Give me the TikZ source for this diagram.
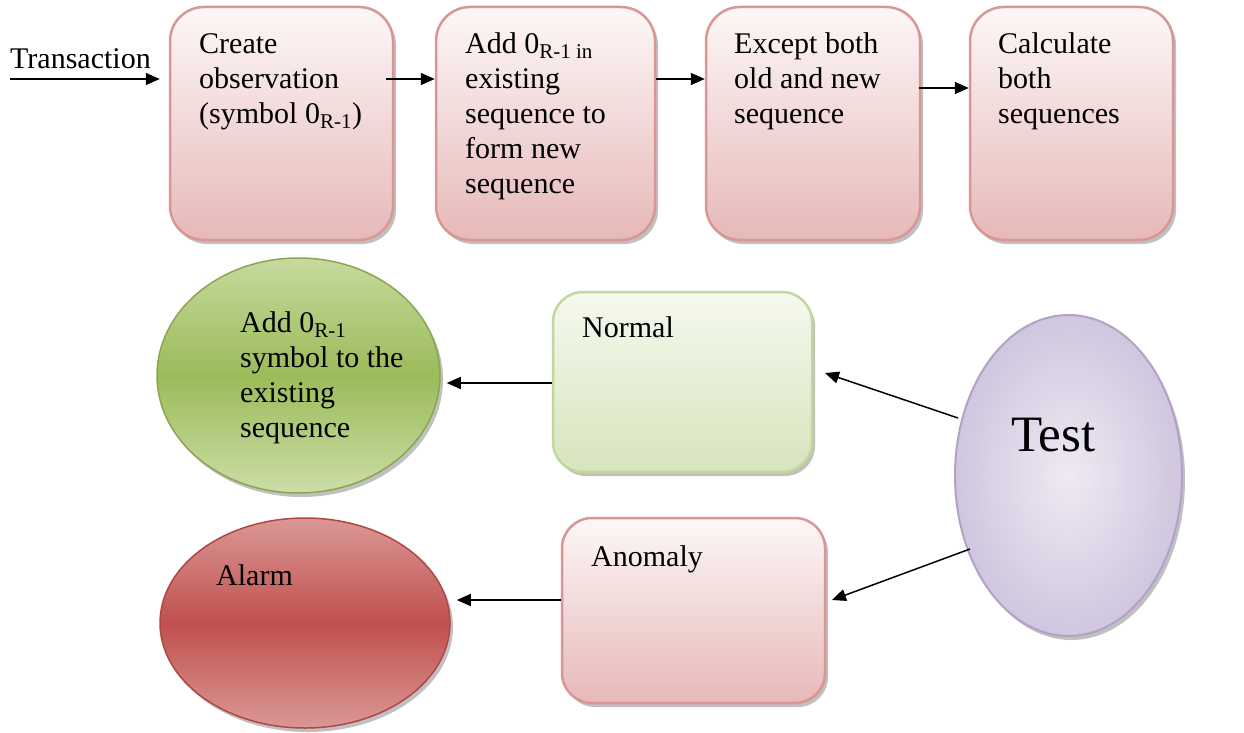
\documentclass[tikz,border=0pt]{standalone}
\usepackage{fontspec}
\setmainfont{Liberation Serif}
\usetikzlibrary{shapes.geometric,arrows.meta,shadows}
\definecolor{pinkbd}{HTML}{D99694}
\definecolor{pinktop}{HTML}{FDF7F7}
\definecolor{pinkbot}{HTML}{E6B9B8}
\definecolor{grnbd}{HTML}{C3D69B}
\definecolor{grntop}{HTML}{F5F9EE}
\definecolor{grnbot}{HTML}{D7E4BD}
\definecolor{grnlite}{HTML}{C6DA9E}
\definecolor{grnmid}{HTML}{9BBB59}
\definecolor{grnedge}{HTML}{8AA64F}
\definecolor{redlite}{HTML}{DA9896}
\definecolor{redmid}{HTML}{C0504D}
\definecolor{rededge}{HTML}{B04744}
\definecolor{lavin}{HTML}{EEEAF3}
\definecolor{lavout}{HTML}{D0C6DF}
\definecolor{lavbd}{HTML}{B3A2C7}
\tikzset{
  shad/.style={drop shadow={shadow xshift=3pt,shadow yshift=-4pt,opacity=0.45,fill=black!55}},
  pinkbox/.style={draw=pinkbd,line width=2.5pt,rounded corners=34pt,top color=pinktop,bottom color=pinkbot,shad,inner sep=0pt},
  greenbox/.style={draw=grnbd,line width=2.5pt,rounded corners=30pt,top color=grntop,bottom color=grnbot,shad,inner sep=0pt},
  grnell/.style={ellipse,draw=grnedge,line width=1.5pt,top color=grnlite,bottom color=grnlite!90!white,middle color=grnmid,shad,inner sep=0pt},
  redell/.style={ellipse,draw=rededge,line width=1.5pt,top color=redlite,bottom color=redlite,middle color=redmid,shad,inner sep=0pt},
  lavell/.style={ellipse,draw=lavbd,line width=2pt,inner color=lavin,outer color=lavout,shad,inner sep=0pt},
  txt/.style={anchor=north west,inner sep=0pt,align=left,font=\fontsize{30}{35}\selectfont},
  arr/.style={line width=1.5pt,-{Triangle[length=14pt,width=12pt]}}
}
\begin{document}
\begin{tikzpicture}[x=1pt,y=-1pt]
\useasboundingbox (0,0) rectangle (1244,733);
% top row boxes
\node[pinkbox,minimum width=223pt,minimum height=233pt] (b1) at (281.5,123.5) {};
\node[pinkbox,minimum width=219pt,minimum height=233pt] (b2) at (545.5,123.5) {};
\node[pinkbox,minimum width=214pt,minimum height=233pt] (b3) at (813,123.5) {};
\node[pinkbox,minimum width=203pt,minimum height=233pt] (b4) at (1071.5,123.5) {};
\node[txt] (t1) at (199,28.5) {\strut Create\\observation\\(symbol 0\textsubscript{R-1})};
\node[txt] (t2) at (465,28.5) {\strut Add 0\textsubscript{R-1 in}\\existing\\sequence to\\form new\\sequence};
\node[txt] (t3) at (734,28.5) {\strut Except both\\old and new\\sequence};
\node[txt] (t4) at (998,28.5) {\strut Calculate\\both\\sequences};
\node[txt] (ttr) at (10,44) {\strut Transaction};
% lower shapes
\node[grnell,minimum width=283pt,minimum height=235pt] (add) at (298.5,375.5) {};
\node[greenbox,minimum width=259pt,minimum height=180pt] (normal) at (682.5,382) {};
\node[lavell,minimum width=227pt,minimum height=321pt] (test) at (1068.5,475.5) {};
\node[pinkbox,rounded corners=30pt,minimum width=263pt,minimum height=185pt] (anom) at (693.5,610.5) {};
\node[redell,minimum width=290pt,minimum height=210pt] (alarm) at (305,623) {};
\node[txt] (tadd) at (240,307.5) {\strut Add 0\textsubscript{R-1}\\symbol to the\\existing\\sequence};
\node[txt] (tnorm) at (582,312.5) {\strut Normal};
\node[txt] (tanom) at (591,541.5) {\strut Anomaly};
\node[txt] (talarm) at (216,560.5) {\strut Alarm};
\node[anchor=base west,inner sep=0pt,font=\fontsize{51}{60}\selectfont] (ttest) at (1011,451) {Test};
% connectors
\coordinate (s0) at (10,79);
\coordinate (r1) at (0,79);
\coordinate (r2) at (0,88);
\draw[arr,shorten >=9pt] (s0) -- (b1.west |- r1);
\draw[arr] ([xshift=-8pt]b1.east |- r1) -- (b2.west |- r1);
\draw[arr] (b2.east |- r1) -- (b3.west |- r1);
\draw[arr] ([xshift=-2pt]b3.east |- r2) -- (b4.west |- r2);
\draw[arr,shorten >=6pt] (normal.west |- 0,383) -- (add.east |- 0,383);
\draw[arr,shorten >=6pt] (anom.west |- 0,600) -- (alarm.east |- 0,600);
\coordinate (tn) at (958,418);
\coordinate (nt) at (825,373);
\coordinate (ta) at (970,549);
\coordinate (at) at (832,600);
\draw[arr] (tn) -- (nt);
\draw[arr] (ta) -- (at);
\end{tikzpicture}
\end{document}
